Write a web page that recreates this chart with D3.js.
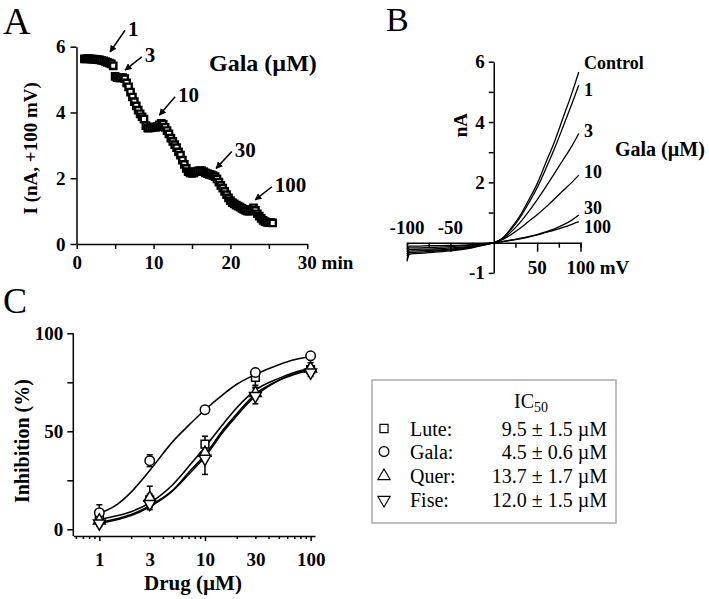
<!DOCTYPE html>
<html><head><meta charset="utf-8">
<script src="https://cdn.jsdelivr.net/npm/d3@7/dist/d3.min.js"></script>
<style>body{margin:0;background:#fff}svg{display:block}</style>
</head><body>
<script>
// ---------- Panel A data ----------
const timeA = [1.0,1.25,1.5,1.75,2.0,2.25,2.5,2.75,3.0,3.25,3.5,3.75,4.0,4.25,4.5,4.75,5.0,5.25,5.5,5.75,6.0,6.25,6.5,6.75,7.0,7.25,7.5,7.75,8.0,8.25,8.5,8.75,9.0,9.25,9.5,9.75,10.0,10.25,10.5,10.75,11.0,11.25,11.5,11.75,12.0,12.25,12.5,12.75,13.0,13.25,13.5,13.75,14.0,14.25,14.5,14.75,15.0,15.25,15.5,15.75,16.0,16.25,16.5,16.75,17.0,17.25,17.5,17.75,18.0,18.25,18.5,18.75,19.0,19.25,19.5,19.75,20.0,20.25,20.5,20.75,21.0,21.25,21.5,21.75,22.0,22.25,22.5,22.75,23.0,23.25,23.5,23.75,24.0,24.25,24.5,24.75,25.0,25.25,25.5];
const currentA = [5.63,5.63,5.64,5.63,5.62,5.62,5.61,5.61,5.60,5.58,5.57,5.55,5.52,5.50,5.48,5.42,5.10,5.06,5.05,5.05,5.06,5.03,4.90,4.78,4.62,4.47,4.33,4.20,4.07,3.96,3.87,3.80,3.60,3.52,3.53,3.55,3.56,3.55,3.57,3.62,3.67,3.64,3.55,3.45,3.35,3.22,3.12,3.02,2.93,2.80,2.70,2.55,2.42,2.30,2.20,2.16,2.15,2.16,2.20,2.22,2.23,2.23,2.20,2.16,2.14,2.12,2.10,2.08,2.05,1.98,1.88,1.78,1.70,1.60,1.50,1.40,1.32,1.26,1.22,1.18,1.15,1.12,1.08,1.05,1.02,1.00,1.00,1.05,1.10,1.02,0.92,0.85,0.78,0.72,0.68,0.66,0.65,0.65,0.64];
const arrowLabels = ["1","3","10","30","100"];
const arrowTipT = [4.34,6.29,10.76,18.14,23.22];
const arrowTipI = [5.84,5.29,3.92,2.30,1.34];
const arrowTailT = [6.29,8.46,12.8,20.18,25.39];
const arrowTailI = [6.5,5.69,4.48,2.81,1.74];
const xTicksA = [0,5,10,15,20,25,30];
const yTicksA = [0,2,4,6];

// ---------- Panel B data ----------
const voltageB = [-100,-97,-90,-75,-50,-25,-10,0,10,20,30,40,50,60,70,80,90,98];
const traceNamesB = ["Control","1","3","10","30","100"];
const traceControl = [-0.62,-0.38,-0.36,-0.33,-0.27,-0.17,-0.07,0,0.15,0.48,0.88,1.40,1.95,2.65,3.35,4.15,4.95,5.66];
const trace1 = [-0.55,-0.33,-0.32,-0.29,-0.24,-0.15,-0.06,0,0.14,0.44,0.82,1.30,1.82,2.45,3.12,3.85,4.60,5.22];
const trace3 = [-0.45,-0.28,-0.27,-0.25,-0.21,-0.13,-0.05,0,0.12,0.36,0.66,1.02,1.42,1.85,2.30,2.75,3.20,3.62];
const trace10 = [-0.38,-0.23,-0.22,-0.21,-0.17,-0.11,-0.04,0,0.10,0.27,0.47,0.70,0.93,1.18,1.45,1.73,2.00,2.24];
const trace30 = [-0.30,-0.17,-0.17,-0.16,-0.13,-0.08,-0.03,0,0.04,0.09,0.14,0.20,0.27,0.36,0.46,0.59,0.75,0.92];
const trace100 = [-0.22,-0.11,-0.11,-0.10,-0.09,-0.06,-0.02,0,0.04,0.08,0.13,0.19,0.26,0.34,0.42,0.51,0.61,0.70];
const xTicksB = [-100,-75,-50,-25,25,50,75,100];
const yTicksB = [-1,0,1,2,3,4,5,6];

// ---------- Panel C data ----------
const concC = [1,3,10,30,100];
const seriesNames = ["Lute","Gala","Quer","Fise"];
const ic50Text = ["9.5 ± 1.5 µM","4.5 ± 0.6 µM","13.7 ± 1.7 µM","12.0 ± 1.5 µM"];
const luteMean = [5.5,15,43.5,77.5,81.5], luteErr = [2,3,4,4,2];
const galaMean = [8.5,35,61,80,88.5], galaErr = [4,3,1.5,2,1.5];
const querMean = [4.5,16,39,69.5,82], querErr = [2,6,4,3,3];
const fiseMean = [3,13,36,68,80], fiseErr = [1.5,2,8,4,2];
const fitConc = [1,1.5,2,3,5,7,10,15,20,30,50,70,100];
const luteFit = [5,7,9,13.5,23,32,42,54,62,71,77,80,82];
const galaFit = [8,13,19,30,45,53,61,69,74,79,84,86.5,88];
const querFit = [3.5,5.5,7.5,12,20,28,37,50,58,68,76,79.5,82];
const fiseFit = [3,5,7,11.5,20,29,38,51,59,69,76,79,81];
const xTickValsC = [0.6,0.7,0.8,0.9,1,2,3,4,5,6,7,8,9,10,20,30,40,50,60,70,80,90,100];
const xLabelsC = [1,3,10,30,100];
const yTicksC = [0,25,50,75,100];

const FONT = "'Liberation Serif','Times New Roman',serif";
const svg = d3.select("body").append("svg").attr("width",709).attr("height",599)
  .style("font-family",FONT);
svg.append("rect").attr("width",709).attr("height",599).attr("fill","#fff");

function styleAxis(g, fs){
  g.selectAll("path.domain").attr("stroke","#000").attr("stroke-width",1.5);
  g.selectAll(".tick line").attr("stroke","#000").attr("stroke-width",1.5);
  g.selectAll(".tick text").attr("fill","#000").style("font-family",FONT)
    .style("font-size",fs+"px").style("font-weight","bold");
}

// ======== Panel A ========
const xA = d3.scaleLinear().domain([0,30]).range([76.7,307.3]);
const yA = d3.scaleLinear().domain([0,6]).range([244,46.7]);
const gA = svg.append("g");
const axA = gA.append("g").attr("transform",`translate(0,${yA(0)})`)
  .call(d3.axisBottom(xA).tickValues(xTicksA).tickSize(5).tickSizeOuter(0).tickPadding(7)
    .tickFormat(d=> d%10===0 ? (d===30? "30 min": String(d)) : ""));
styleAxis(axA,19);
axA.selectAll(".tick text").filter(d=>d===30).attr("text-anchor","start").attr("dx","-10");
const ayA = gA.append("g").attr("transform",`translate(${xA(0)-0.2},0)`)
  .call(d3.axisLeft(yA).tickValues(yTicksA).tickSize(6).tickSizeOuter(0).tickPadding(5)
    .tickFormat(d=>String(d)));
styleAxis(ayA,19);
gA.append("text").attr("transform",`translate(30,${yA(3)+3}) rotate(-90)`)
  .attr("text-anchor","middle").attr("dy","0.35em")
  .style("font-size","19px").style("font-weight","bold").text("I (nA, +100 mV)");
gA.append("text").attr("x",3).attr("y",34).style("font-size","38px").text("A");
gA.append("text").attr("x",209).attr("y",71).style("font-size","24px").style("font-weight","bold").text("Gala (µM)");

const sq = d3.symbol().type(d3.symbolSquare).size(40);
gA.selectAll("path.pt").data(timeA.map((t,i)=>[t,currentA[i]])).join("path")
  .attr("class","pt").attr("d",sq)
  .attr("transform",d=>`translate(${xA(d[0])},${yA(d[1])})`)
  .attr("fill","#fff").attr("stroke","#000").attr("stroke-width",2.4);

svg.append("defs").append("marker").attr("id","ah").attr("viewBox","0 0 10 10")
  .attr("refX",9).attr("refY",5).attr("markerWidth",7).attr("markerHeight",7)
  .attr("markerUnits","userSpaceOnUse").attr("orient","auto")
  .append("path").attr("d","M0,0 L10,5 L0,10 Z").attr("fill","#000");
arrowLabels.forEach((lab,i)=>{
  gA.append("line").attr("x1",xA(arrowTailT[i])).attr("y1",yA(arrowTailI[i]))
    .attr("x2",xA(arrowTipT[i])).attr("y2",yA(arrowTipI[i]))
    .attr("stroke","#000").attr("stroke-width",1.5).attr("marker-end","url(#ah)");
  gA.append("text").attr("x",xA(arrowTailT[i])+3).attr("y",yA(arrowTailI[i])-2)
    .attr("dy","0.35em").style("font-size","21px").style("font-weight","bold").text(lab);
});

// ======== Panel B ========
const xB = d3.scaleLinear().domain([-100,100]).range([407,580.5]);
const yB = d3.scaleLinear().domain([-1,6]).range([272.9,61.7]);
const gB = svg.append("g");
gB.append("text").attr("x",386).attr("y",31).style("font-size","34px").text("B");
const axB = gB.append("g").attr("transform",`translate(0,${yB(0)})`)
  .call(d3.axisBottom(xB).tickValues(xTicksB).tickSizeOuter(0).tickSize(5).tickFormat(""));
styleAxis(axB,19);
axB.selectAll(".tick line").attr("y2",d=> (d%50===0)?9:5);
[-100,-50].forEach(v=>{
  gB.append("text").attr("x",xB(v)).attr("y",yB(0)-15).attr("text-anchor","middle")
    .attr("dy","0.35em").style("font-size","19px").style("font-weight","bold").text(String(v));
});
gB.append("text").attr("x",xB(50)).attr("y",yB(0)+25).attr("text-anchor","middle")
  .attr("dy","0.35em").style("font-size","19px").style("font-weight","bold").text("50");
gB.append("text").attr("x",xB(100)-14).attr("y",yB(0)+25).attr("text-anchor","start")
  .attr("dy","0.35em").style("font-size","19px").style("font-weight","bold").text("100 mV");
const ayB = gB.append("g").attr("transform",`translate(${xB(0)},0)`)
  .call(d3.axisLeft(yB).tickValues(yTicksB).tickSize(5).tickSizeOuter(0).tickPadding(4)
    .tickFormat(d=> (d===-1||d===2||d===4||d===6)? String(d) : ""));
styleAxis(ayB,19);
ayB.selectAll(".tick line").filter(d=>d===0).remove();
gB.append("text").attr("transform",`translate(460,${yB(3.9)}) rotate(-90)`)
  .attr("text-anchor","middle").attr("dy","0.35em")
  .style("font-size","19px").style("font-weight","bold").text("nA");
const traces = [traceControl,trace1,trace3,trace10,trace30,trace100];
const lineB = d3.line().x((d,i)=>xB(voltageB[i])).y(d=>yB(d)).curve(d3.curveMonotoneX);
gB.selectAll("path.tr").data(traces).join("path").attr("class","tr")
  .attr("d",lineB).attr("fill","none").attr("stroke","#000").attr("stroke-width",1.3);
const labelYB = [63,90,131,172,208,227];
traceNamesB.forEach((n,i)=>{
  gB.append("text").attr("x",584).attr("y",labelYB[i]).attr("dy","0.35em")
    .style("font-size","18px").style("font-weight","bold").text(n);
});
gB.append("text").attr("x",615).attr("y",149).attr("dy","0.35em")
  .style("font-size","20px").style("font-weight","bold").text("Gala (µM)");

// ======== Panel C ========
const xC = d3.scaleLog().domain([0.567,110]).range([73.3,315]);
const yC = d3.scaleLinear().domain([0,100]).range([529.3,333.3]);
const gC = svg.append("g");
gC.append("text").attr("x",3).attr("y",313).style("font-size","36px").text("C");
const axC = gC.append("g").attr("transform","translate(0,536)")
  .call(d3.axisBottom(xC).tickValues(xTickValsC).tickSizeOuter(0).tickPadding(11)
    .tickFormat(d=> xLabelsC.includes(d)? String(d) : ""));
styleAxis(axC,19);
axC.selectAll(".tick line").attr("y2",d=> (d===1||d===10||d===100)?5:3);
const ayC = gC.append("g").attr("transform",`translate(${xC.range()[0]},0)`)
  .call(d3.axisLeft(yC).tickValues(yTicksC).tickSize(6).tickSizeOuter(0).tickPadding(4)
    .tickFormat(d=> d%50===0? String(d) : ""));
styleAxis(ayC,19);
ayC.select("path.domain").attr("d",`M0,${yC(100)}V536`);
gC.append("text").attr("transform",`translate(22,${yC(45)}) rotate(-90)`)
  .attr("text-anchor","middle").attr("dy","0.35em")
  .style("font-size","20px").style("font-weight","bold").text("Inhibition (%)");
gC.append("text").attr("x",(xC(1)+xC(100))/2-12).attr("y",583).attr("text-anchor","middle")
  .attr("dy","0.35em").style("font-size","21px").style("font-weight","bold").text("Drug (µM)");

const fits = [luteFit,galaFit,querFit,fiseFit];
const lineC = d3.line().x((d,i)=>xC(fitConc[i])).y(d=>yC(d)).curve(d3.curveMonotoneX);
gC.selectAll("path.fit").data(fits).join("path").attr("class","fit")
  .attr("d",lineC).attr("fill","none").attr("stroke","#000").attr("stroke-width",1.6);

const means = [luteMean,galaMean,querMean,fiseMean];
const errs = [luteErr,galaErr,querErr,fiseErr];
const symTypes = [d3.symbolSquare,d3.symbolCircle,d3.symbolTriangle,d3.symbolTriangle];
const symRot = [0,0,0,180];
const symSize = [60,70,60,60];
means.forEach((m,s)=>{
  m.forEach((v,i)=>{
    const x = xC(concC[i]);
    const y0 = yC(v-errs[s][i]), y1 = yC(v+errs[s][i]);
    gC.append("line").attr("x1",x).attr("x2",x).attr("y1",y0).attr("y2",y1)
      .attr("stroke","#000").attr("stroke-width",1.5);
    [y0,y1].forEach(yy=> gC.append("line").attr("x1",x-3).attr("x2",x+3).attr("y1",yy).attr("y2",yy)
      .attr("stroke","#000").attr("stroke-width",1.5));
  });
});
means.forEach((m,s)=>{
  gC.selectAll(null).data(m).join("path")
    .attr("d",d3.symbol().type(symTypes[s]).size(symSize[s]))
    .attr("transform",(d,i)=>`translate(${xC(concC[i])},${yC(d)}) rotate(${symRot[s]})`)
    .attr("fill","#fff").attr("stroke","#000").attr("stroke-width",1.5);
});

// Legend
const lg = svg.append("g");
lg.append("rect").attr("x",372).attr("y",380).attr("width",244).attr("height",143)
  .attr("fill","#fff").attr("stroke","#aaa").attr("stroke-width",1.5);
const ic = lg.append("text").attr("x",531).attr("y",408).attr("text-anchor","middle")
  .style("font-size","20px");
ic.append("tspan").text("IC");
ic.append("tspan").attr("dy",4).style("font-size","14px").text("50");
const rowY = [428.5,451.5,476,500];
seriesNames.forEach((n,i)=>{
  lg.append("path").attr("d",d3.symbol().type(symTypes[i]).size(symSize[i]+5))
    .attr("transform",`translate(384,${rowY[i]}) rotate(${symRot[i]})`)
    .attr("fill","#fff").attr("stroke","#000").attr("stroke-width",1.2);
  lg.append("text").attr("x",410).attr("y",rowY[i]).attr("dy","0.35em")
    .style("font-size","20px").text(n+":");
  lg.append("text").attr("x",607).attr("y",rowY[i]).attr("dy","0.35em").attr("text-anchor","end")
    .style("font-size","20px").text(ic50Text[i]);
});
</script>
</body></html>
